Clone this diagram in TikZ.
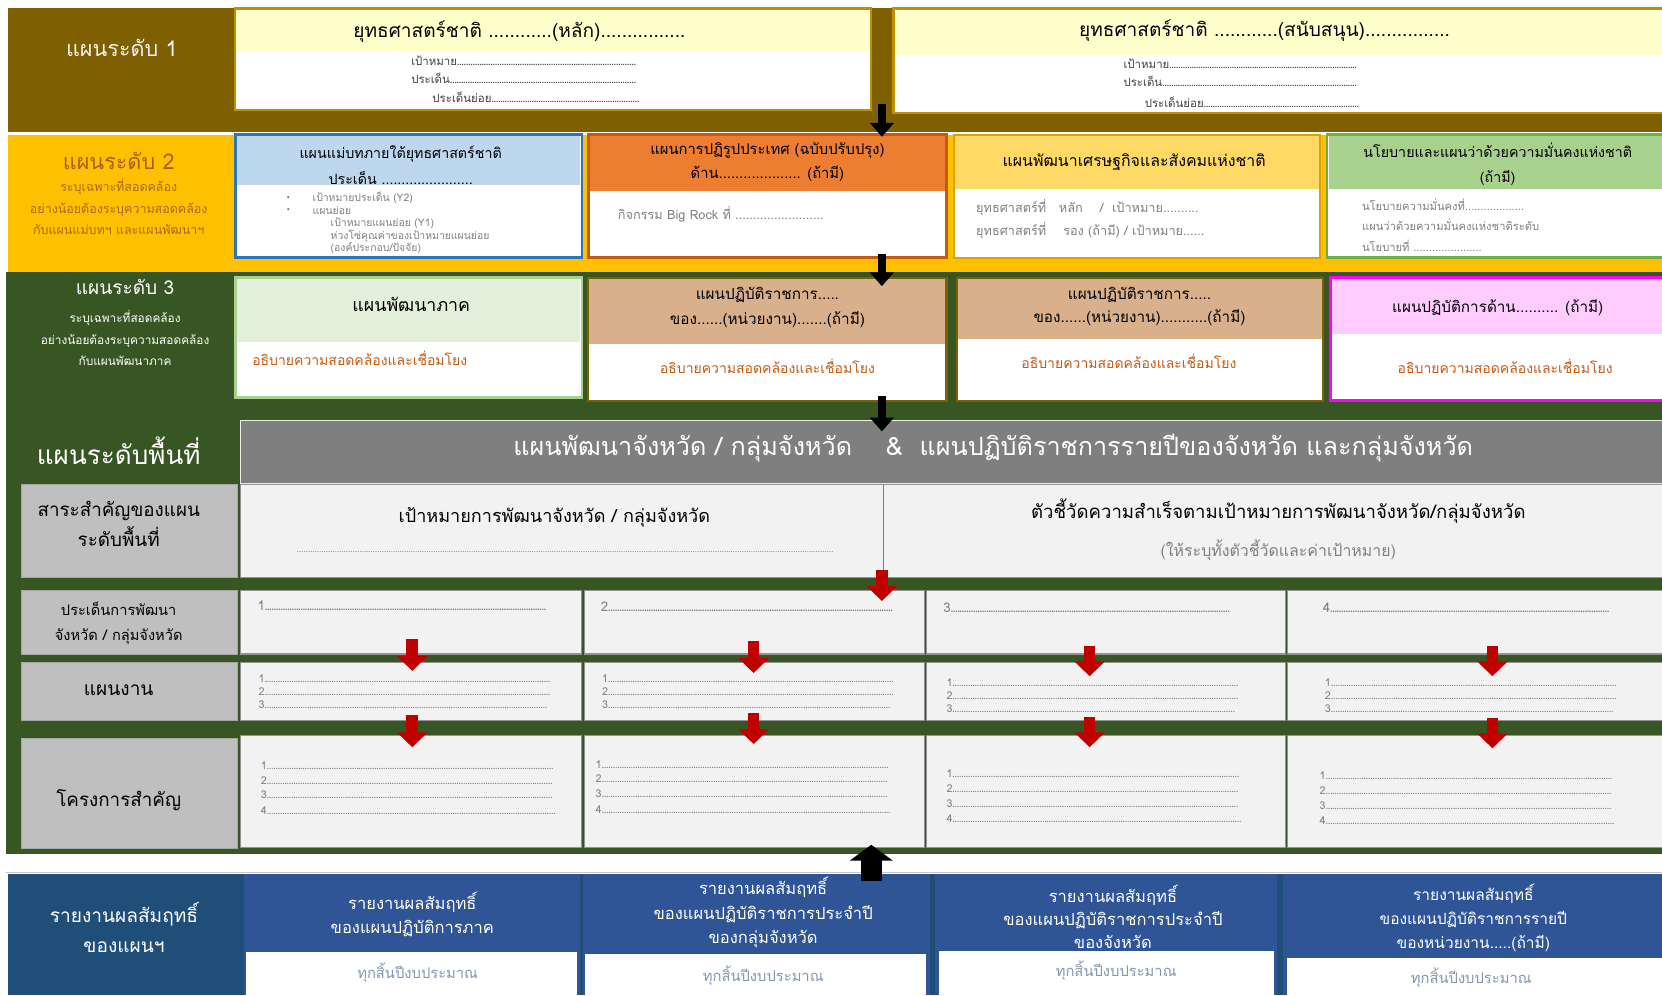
\documentclass[tikz,border=0pt]{standalone}
\usepackage{fontspec}
\setmainfont{Loma}[Script=Thai]
\newfontfamily\dejavu{DejaVu Sans}
\usetikzlibrary{arrows.meta,fit}
\definecolor{lone}{HTML}{7F6000}
\definecolor{ltwo}{HTML}{FFC000}
\definecolor{lthree}{HTML}{375623}
\definecolor{goldb}{HTML}{BF9000}
\definecolor{paleyel}{HTML}{FFFFCC}
\definecolor{blueb}{HTML}{2E75B6}
\definecolor{bluehd}{HTML}{BDD7EE}
\definecolor{orhd}{HTML}{ED7D31}
\definecolor{orb}{HTML}{C55A11}
\definecolor{yelhd}{HTML}{FFD966}
\definecolor{grnhd}{HTML}{A9D18E}
\definecolor{grnb}{HTML}{70AD47}
\definecolor{lgrnhd}{HTML}{E2EFDA}
\definecolor{tanhd}{HTML}{D8B08C}
\definecolor{pinkhd}{HTML}{FFCCFF}
\definecolor{magb}{HTML}{FF00FF}
\definecolor{txtor}{HTML}{C55A11}
\definecolor{labtwoa}{HTML}{B45A0C}
\definecolor{labtwob}{HTML}{AE6A1E}
\definecolor{gtxt}{HTML}{7F7F7F}
\definecolor{dgtxt}{HTML}{404040}
\definecolor{hdrgray}{HTML}{7F7F7F}
\definecolor{rowbg}{HTML}{F2F2F2}
\definecolor{labgray}{HTML}{BFBFBF}
\definecolor{redar}{HTML}{C00000}
\definecolor{navy}{HTML}{1F4E79}
\definecolor{rblue}{HTML}{2F5597}
\definecolor{bluetxt}{HTML}{8497B0}
\newcommand\fz[2]{\fontsize{\fpeval{1.2*#1}}{#2}\selectfont}
\newcommand\dotl[2]{\hbox to #1{#2\xleaders\hbox to 2.1pt{\hss.\hss}\hfill}}
\begin{document}
\begin{tikzpicture}[x=1pt,y=-1pt,
  txt/.style={inner sep=0pt, outer sep=0pt, align=center},
  ltxt/.style={inner sep=0pt, outer sep=0pt, anchor=west},
  area/.style={inner sep=0pt, outer sep=0pt},
  rowbox/.style={area, fill=rowbg, draw=gray!85, line width=1pt},
  labbox/.style={area, fill=labgray, draw=gray!70, line width=0.6pt},
  blackarrow/.style={line width=8pt, black, -{Triangle[width=22pt,length=13pt]}},
  redarrow/.style={line width=11pt, redar, -{Triangle[width=28pt,length=14pt]}},
  dots/.style={ltxt, font=\fz{8.5}{10}, text=gtxt},
]
\useasboundingbox (0,0) rectangle (1568,939);
\fill[white] (0,0) rectangle (1568,939);

% ===== Level 1 =====
\node[area, fit={(8,8)(1568,125)}, fill=lone] (band1) {};
\node[txt, font=\fz{17}{20}, text=white!94!black] (l1) at (115,45) {แผนระดับ 1};
\node[area, fit={(222,8)(822,104)}, draw=goldb, line width=2pt, fill=white] (s1) {};
\node[area, fit={(223,9)(821,48)}, fill=paleyel] (s1h) {};
\node[txt, font=\fz{15}{18}] (s1t) at (490,30) {ยุทธศาสตร์ชาติ ............(หลัก)................};
\node[ltxt, font=\fz{9}{10}, text=dgtxt] (s1a) at (388,57) {\dotl{212pt}{เป้าหมาย}};
\node[ltxt, font=\fz{9}{10}, text=dgtxt] (s1b) at (388,74) {\dotl{212pt}{ประเด็น}};
\node[ltxt, font=\fz{9}{10}, text=dgtxt] (s1c) at (408,92) {\dotl{195pt}{ประเด็นย่อย}};

\node[area, fit={(843,8)(1575,107)}, draw=goldb, line width=2pt, fill=white] (s2) {};
\node[area, fit={(844,9)(1574,52)}, fill=paleyel] (s2h) {};
\node[txt, font=\fz{15}{18}] (s2t) at (1193,29) {ยุทธศาสตร์ชาติ ............(สนับสนุน)................};
\node[ltxt, font=\fz{9}{10}, text=dgtxt] (s2a) at (1060,60) {\dotl{220pt}{เป้าหมาย}};
\node[ltxt, font=\fz{9}{10}, text=dgtxt] (s2b) at (1060,77) {\dotl{220pt}{ประเด็น}};
\node[ltxt, font=\fz{9}{10}, text=dgtxt] (s2c) at (1080,96) {\dotl{202pt}{ประเด็นย่อย}};

% ===== Level 2 =====
\node[area, fit={(8,127)(1568,257)}, fill=ltwo] (band2) {};
\node[txt, font=\fz{17}{20}, text=labtwoa] (l2) at (112,152) {แผนระดับ 2};
\node[txt, font=\fz{9.8}{20}, text=labtwob] (l2s) at (112,195) {ระบุเฉพาะที่สอดคล้อง\\อย่างน้อยต้องระบุความสอดคล้อง\\กับแผนแม่บทฯ และแผนพัฒนาฯ};

\node[area, fit={(222,127)(549,243)}, draw=blueb, line width=2.5pt, fill=white] (pa) {};
\node[area, fit={(223.5,128.5)(547.5,175)}, fill=bluehd] (pah) {};
\node[txt, font=\fz{11.2}{24}] (pat) at (378,156) {แผนแม่บทภายใต้ยุทธศาสตร์ชาติ\\ประเด็น .......................};
\node[ltxt, font=\dejavu\fz{6}{8}, text=gtxt] (pab1) at (270,187) {•};
\node[ltxt, font=\dejavu\fz{6}{8}, text=gtxt] (pab2) at (270,199) {•};
\node[ltxt, font=\fz{8.2}{10}, text=gtxt] (pa1) at (295,187) {เป้าหมายประเด็น (Y2)};
\node[ltxt, font=\fz{8.2}{10}, text=gtxt] (pa2) at (295,199) {แผนย่อย};
\node[ltxt, font=\fz{8.2}{10}, text=gtxt] (pa3) at (312,211) {เป้าหมายแผนย่อย (Y1)};
\node[ltxt, font=\fz{8.2}{10}, text=gtxt] (pa4) at (312,223) {ห่วงโซ่คุณค่าของเป้าหมายแผนย่อย};
\node[ltxt, font=\fz{8.2}{10}, text=gtxt] (pa5) at (312,234) {(องค์ประกอบ/ปัจจัย)};

\node[area, fit={(555,127)(893,243)}, draw=orb, line width=2.5pt, fill=white] (pb) {};
\node[area, fit={(556.5,128.5)(891.5,180)}, fill=orhd] (pbh) {};
\node[txt, font=\fz{11.6}{22}] (pbt) at (724,153) {แผนการปฏิรูปประเทศ (ฉบับปรับปรุง)\\ด้าน.................... (ถ้ามี)};
\node[ltxt, font=\fz{10}{12}, text=gtxt] (pbb) at (583,202) {กิจกรรม Big Rock ที่ .........................};

\node[area, fit={(900,127)(1245,243)}, draw=goldb!60!ltwo, line width=2pt, fill=white] (pc) {};
\node[area, fit={(901,128)(1244,178)}, fill=yelhd] (pch) {};
\node[txt, font=\fz{12.5}{15}] (pct) at (1070,153) {แผนพัฒนาเศรษฐกิจและสังคมแห่งชาติ};
\node[ltxt, font=\fz{10}{12}, text=gtxt] (pc1) at (921,196) {ยุทธศาสตร์ที่\quad หลัก\quad\ / \ เป้าหมาย..........};
\node[ltxt, font=\fz{10}{12}, text=gtxt] (pc2) at (921,218) {ยุทธศาสตร์ที่\quad\ รอง (ถ้ามี) / เป้าหมาย......};

\node[area, fit={(1252,127)(1575,243)}, draw=grnb, line width=2.5pt, fill=white] (pd) {};
\node[area, fit={(1253.5,128.5)(1575,178)}, fill=grnhd] (pdh) {};
\node[txt, font=\fz{11.2}{23}] (pdt) at (1413,155) {นโยบายและแผนว่าด้วยความมั่นคงแห่งชาติ\\(ถ้ามี)};
\node[ltxt, font=\fz{8.8}{10}, text=gtxt] (pd1) at (1285,193) {นโยบายความมั่นคงที่...................};
\node[ltxt, font=\fz{8.8}{10}, text=gtxt] (pd2) at (1285,212) {แผนว่าด้วยความมั่นคงแห่งชาติระดับ};
\node[ltxt, font=\fz{8.8}{10}, text=gtxt] (pd3) at (1285,232) {นโยบายที่ ......................};

% ===== Level 3 and area band =====
\node[area, fit={(6,257)(1568,806)}, fill=lthree] (band3) {};
\node[txt, font=\fz{15}{18}, text=white] (l3) at (118,271) {แผนระดับ 3};
\node[txt, font=\fz{9.3}{20}, text=white] (l3s) at (118,319) {ระบุเฉพาะที่สอดคล้อง\\อย่างน้อยต้องระบุความสอดคล้อง\\กับแผนพัฒนาภาค};

\node[area, fit={(222,262)(549,375)}, draw=grnhd, line width=2.5pt, fill=white] (pe) {};
\node[area, fit={(223.5,263.5)(547.5,323)}, fill=lgrnhd] (peh) {};
\node[txt, font=\fz{14}{16}] (pet) at (388,287) {แผนพัฒนาภาค};
\node[ltxt, font=\fz{11}{12}, text=txtor] (peb) at (238,338) {อธิบายความสอดคล้องและเชื่อมโยง};

\node[area, fit={(555,262)(893,378)}, draw=lone, line width=2pt, fill=white] (pf) {};
\node[area, fit={(556,263)(892,325)}, fill=tanhd] (pfh) {};
\node[txt, font=\fz{12}{23}] (pft) at (724,290) {แผนปฏิบัติราชการ.....\\ของ......(หน่วยงาน).......(ถ้ามี)};
\node[txt, font=\fz{11}{12}, text=txtor] (pfb) at (724,346) {อธิบายความสอดคล้องและเชื่อมโยง};

\node[area, fit={(903,262)(1248,378)}, draw=lone, line width=2pt, fill=white] (pg) {};
\node[area, fit={(904,263)(1247,320)}, fill=tanhd] (pgh) {};
\node[txt, font=\fz{12}{22}] (pgt) at (1075,289) {แผนปฏิบัติราชการ.....\\ของ......(หน่วยงาน)...........(ถ้ามี)};
\node[txt, font=\fz{11}{12}, text=txtor] (pgb) at (1065,341) {อธิบายความสอดคล้องและเชื่อมโยง};

\node[area, fit={(1255,262)(1575,378)}, draw=magb, line width=3pt, fill=white] (ph) {};
\node[area, fit={(1256.5,263.5)(1575,315)}, fill=pinkhd] (phh) {};
\node[txt, font=\fz{12}{15}] (pht) at (1413,290) {แผนปฏิบัติการด้าน.......... (ถ้ามี)};
\node[txt, font=\fz{11}{12}, text=txtor] (phb) at (1420,346) {อธิบายความสอดคล้องและเชื่อมโยง};

% ===== Area level =====
\node[txt, font=\fz{20.5}{25}, text=white] (la) at (112,425) {แผนระดับพื้นที่};
\node[area, fit={(227,397)(1575,456)}, fill=hdrgray, draw=white!85!gray, line width=0.8pt] (ah) {};
\node[txt, font=\fz{19.8}{22}, text=white] (aht) at (937,423) {แผนพัฒนาจังหวัด / กลุ่มจังหวัด\quad\ \&\ \ แผนปฏิบัติราชการรายปีของจังหวัด และกลุ่มจังหวัด};

\node[labbox, fit={(20,457)(224,545)}] (ra) {};
\node[txt, font=\fz{14.8}{28}] (rat) at (112,494) {สาระสำคัญของแผน\\ระดับพื้นที่};
\node[rowbox, fit={(227,457)(1575,545)}] (rb) {};
\coordinate (divt) at (833,457);
\coordinate (divb) at (833,540);
\draw[gray, line width=0.8pt] (divt) -- (divb);
\node[txt, font=\fz{14.2}{16}] (rbt1) at (523,488) {เป้าหมายการพัฒนาจังหวัด / กลุ่มจังหวัด};
\node[ltxt, font=\fz{7}{10}, text=gtxt] (rbd1) at (280,521) {\dotl{506pt}{}};
\node[txt, font=\fz{14.6}{16}] (rbt2) at (1206,482) {ตัวชี้วัดความสำเร็จตามเป้าหมายการพัฒนาจังหวัด/กลุ่มจังหวัด};
\node[txt, font=\fz{12.5}{14}, text=gtxt] (rbs2) at (1206,519) {(ให้ระบุทั้งตัวชี้วัดและค่าเป้าหมาย)};

% row: issues
\node[labbox, fit={(20,557)(224,617)}] (ia) {};
\node[txt, font=\fz{11.5}{24}] (iat) at (112,588) {ประเด็นการพัฒนา\\จังหวัด / กลุ่มจังหวัด};
\node[rowbox, fit={(227,557)(549,617)}] (i1) {};
\node[rowbox, fit={(551,557)(872,617)}] (i2) {};
\node[rowbox, fit={(874,557)(1213,617)}] (i3) {};
\node[rowbox, fit={(1215,557)(1575,617)}] (i4) {};
\node[ltxt, font=\fz{10.5}{12}, text=gtxt] (i1t) at (243,571) {\dotl{272pt}{1}};
\node[ltxt, font=\fz{10.5}{12}, text=gtxt] (i2t) at (567,572) {\dotl{275pt}{2}};
\node[ltxt, font=\fz{10.5}{12}, text=gtxt] (i3t) at (890,573) {\dotl{270pt}{3}};
\node[ltxt, font=\fz{10.5}{12}, text=gtxt] (i4t) at (1248,573) {\dotl{270pt}{4}};

% row: plans
\node[labbox, fit={(20,625)(224,680)}] (wa) {};
\node[txt, font=\fz{15}{18}] (wat) at (112,651) {แผนงาน};
\node[rowbox, fit={(227,625)(549,680)}] (w1) {};
\node[rowbox, fit={(551,625)(872,680)}] (w2) {};
\node[rowbox, fit={(874,625)(1213,680)}] (w3) {};
\node[rowbox, fit={(1215,625)(1575,680)}] (w4) {};
\foreach \n/\x/\ya in {1/244/640, 2/568/640, 3/893/644, 4/1250/644}{
  \node[dots] (w\n a) at (\x,\ya) {\dotl{275pt}{1}};
  \node[dots] (w\n b) at (\x,\ya+12.5) {\dotl{275pt}{2}};
  \node[dots] (w\n c) at (\x,\ya+25) {\dotl{272pt}{3}};
}

% row: projects
\node[labbox, fit={(20,697)(224,800)}] (ja) {};
\node[txt, font=\fz{14.8}{18}] (jat) at (112,755) {โครงการสำคัญ};
\node[rowbox, fit={(227,694)(549,800)}] (j1) {};
\node[rowbox, fit={(551,694)(872,800)}] (j2) {};
\node[rowbox, fit={(874,694)(1213,800)}] (j3) {};
\node[rowbox, fit={(1215,694)(1575,800)}] (j4) {};
\foreach \n/\x/\ya in {1/246/722, 2/562/721, 3/893/730, 4/1245/732}{
  \node[dots] (j\n a) at (\x,\ya) {\dotl{276pt}{1}};
  \node[dots] (j\n b) at (\x,\ya+14) {\dotl{275pt}{2}};
  \node[dots] (j\n c) at (\x,\ya+28) {\dotl{275pt}{3}};
  \node[dots] (j\n d) at (\x,\ya+42.5) {\dotl{278pt}{4}};
}

% ===== arrows =====
\coordinate (a1s) at (832,98);  \coordinate (a1e) at (832,129);
\coordinate (a2s) at (832,240); \coordinate (a2e) at (832,270);
\coordinate (a3s) at (832,374); \coordinate (a3e) at (832,407);
\draw[blackarrow] (a1s) -- (a1e);
\draw[blackarrow] (a2s) -- (a2e);
\draw[blackarrow] (a3s) -- (a3e);
\coordinate (r0s) at (832,538); \coordinate (r0e) at (832,567);
\draw[redarrow] (r0s) -- (r0e);
\foreach \n/\x/\ys/\ye/\zs/\ze in {1/389/603/633/675/705, 2/711/605/635/673/702, 3/1028/609/638/676/705, 4/1408/609/638/677/706}{
  \coordinate (ra\n) at (\x,\ys); \coordinate (rb\n) at (\x,\ye);
  \coordinate (rc\n) at (\x,\zs); \coordinate (rd\n) at (\x,\ze);
  \draw[redarrow] (ra\n) -- (rb\n);
  \draw[redarrow] (rc\n) -- (rd\n);
}

% ===== Reports =====
\coordinate (lnl) at (6,823.5); \coordinate (lnr) at (1568,823.5);
\draw[gray!45, line width=0.8pt] (lnl) -- (lnr);
\node[area, fit={(8,825)(1568,939)}, fill=navy] (band5) {};
\node[txt, font=\fz{15}{29}, text=white] (l5) at (117,875) {รายงานผลสัมฤทธิ์\\ของแผนฯ};
\node[area, fit={(230,825)(547,939)}, fill=rblue] (q1) {};
\node[area, fit={(550,825)(877,939)}, fill=rblue] (q2) {};
\node[area, fit={(882,825)(1205,939)}, fill=rblue] (q3) {};
\node[area, fit={(1210,825)(1568,939)}, fill=rblue] (q4) {};
\node[area, fit={(232,898)(544,939)}, fill=white] (q1w) {};
\node[area, fit={(552,900)(874,939)}, fill=white] (q2w) {};
\node[area, fit={(886,897)(1202,939)}, fill=white] (q3w) {};
\node[area, fit={(1214,904)(1568,939)}, fill=white] (q4w) {};
\node[txt, font=\fz{13}{22.5}, text=white] (q1t) at (389,863) {รายงานผลสัมฤทธิ์\\ของแผนปฏิบัติการภาค};
\node[txt, font=\fz{13}{23}, text=white] (q2t) at (720,861) {รายงานผลสัมฤทธิ์\\ของแผนปฏิบัติราชการประจำปี\\ของกลุ่มจังหวัด};
\node[txt, font=\fz{13}{22}, text=white] (q3t) at (1050,865) {รายงานผลสัมฤทธิ์\\ของแผนปฏิบัติราชการประจำปี\\ของจังหวัด};
\node[txt, font=\fz{12.2}{22.5}, text=white] (q4t) at (1390,866) {รายงานผลสัมฤทธิ์\\ของแผนปฏิบัติราชการรายปี\\ของหน่วยงาน.....(ถ้ามี)};
\node[txt, font=\fz{11.6}{12}, text=bluetxt] (q1b) at (394,918) {ทุกสิ้นปีงบประมาณ};
\node[txt, font=\fz{11.6}{12}, text=bluetxt] (q2b) at (720,920) {ทุกสิ้นปีงบประมาณ};
\node[txt, font=\fz{11.6}{12}, text=bluetxt] (q3b) at (1053,916) {ทุกสิ้นปีงบประมาณ};
\node[txt, font=\fz{11.6}{12}, text=bluetxt] (q4b) at (1388,922) {ทุกสิ้นปีงบประมาณ};

\coordinate (ups) at (822,831); \coordinate (upe) at (822,797);
\draw[black, line width=20pt, -{Triangle[width=40pt,length=15pt]}] (ups) -- (upe);
\end{tikzpicture}
\end{document}
